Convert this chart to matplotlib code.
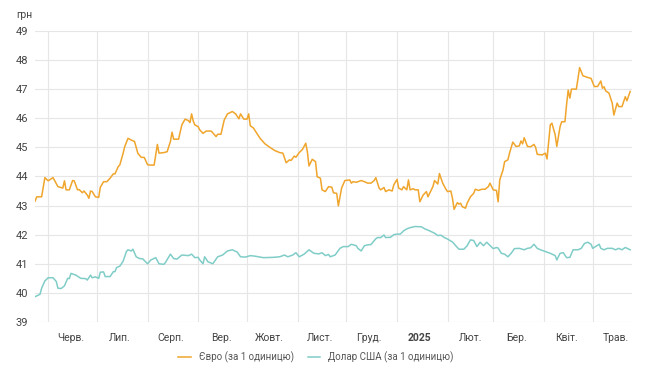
import matplotlib
matplotlib.use('Agg')
import matplotlib.pyplot as plt
import pandas as pd

plt.rcParams['font.family'] = ['Roboto', 'DejaVu Sans']

start_date = '2024-05-24'
month_labels = ['Черв.', 'Лип.', 'Серп.', 'Вер.', 'Жовт.', 'Лист.', 'Груд.',
                '2025', 'Лют.', 'Бер.', 'Квіт.', 'Трав.']

# days since start_date
euro_day = [0, 1, 4, 6, 8, 11, 14, 17, 18, 19, 21, 23, 24, 26, 27, 29, 30, 32, 33, 34,
            35, 37, 39, 40, 42, 44, 46, 48, 49, 51, 52, 54, 55, 57, 59, 61, 63, 65, 67, 69,
            71, 73, 75, 76, 79, 81, 83, 84, 85, 88, 90, 92, 94, 95, 96, 97, 98, 100, 101, 103,
            105, 108, 111, 112, 114, 116, 118, 121, 123, 125, 126, 128, 130, 131, 132, 134, 136, 138, 141, 144,
            147, 150, 152, 154, 156, 157, 159, 160, 162, 164, 166, 167, 168, 170, 172, 173, 175, 176, 178, 180,
            182, 183, 185, 186, 188, 190, 193, 194, 195, 197, 200, 202, 204, 206, 208, 209, 211, 212, 214, 215,
            217, 219, 220, 222, 223, 225, 226, 228, 229, 230, 232, 233, 235, 236, 238, 240, 241, 242, 244, 245,
            247, 248, 250, 252, 253, 255, 256, 257, 259, 260, 261, 262, 264, 265, 267, 269, 270, 272, 274, 276,
            278, 279, 281, 283, 284, 285, 287, 288, 290, 291, 293, 295, 297, 298, 299, 300, 302, 304, 306, 307,
            308, 311, 313, 314, 316, 317, 319, 320, 322, 323, 325, 326, 327, 328, 329, 332, 334, 336, 339, 341,
            343, 345, 347, 348, 349, 350, 352, 354, 355, 357, 358, 360, 362, 363, 365]
euro_rate = [43.15, 43.3, 43.3, 43.96, 43.85, 43.96, 43.65, 43.6, 43.85, 43.54, 43.54, 43.86, 43.85, 43.54, 43.55, 43.44, 43.5, 43.36, 43.25, 43.5,
             43.48, 43.3, 43.28, 43.63, 43.82, 43.82, 43.94, 44.09, 44.09, 44.34, 44.4, 44.8, 45.03, 45.31, 45.25, 45.2, 44.8, 44.66, 44.65, 44.4,
             44.39, 44.39, 45.1, 44.8, 44.82, 44.85, 45.2, 45.52, 45.28, 45.28, 45.77, 45.97, 45.92, 45.85, 46.15, 45.9, 45.77, 45.71, 45.6, 45.48,
             45.56, 45.56, 45.37, 45.45, 45.45, 45.94, 46.15, 46.23, 46.15, 45.98, 46.15, 45.97, 45.97, 46.15, 45.74, 45.66, 45.48, 45.31, 45.12, 45.0,
             44.89, 44.82, 44.8, 44.47, 44.57, 44.55, 44.7, 44.66, 44.82, 44.93, 45.14, 44.85, 44.36, 44.59, 44.51, 43.99, 43.94, 43.54, 43.48, 43.65,
             43.63, 43.44, 43.42, 42.99, 43.6, 43.86, 43.88, 43.77, 43.82, 43.8, 43.86, 43.82, 43.77, 43.77, 43.86, 43.96, 43.6, 43.54, 43.62, 43.48,
             43.54, 43.5, 43.71, 43.9, 43.6, 43.54, 43.65, 43.54, 43.88, 43.54, 43.58, 43.54, 43.54, 43.13, 43.36, 43.48, 43.3, 43.42, 43.65, 43.86,
             43.74, 44.1, 43.77, 43.56, 43.48, 43.5, 43.25, 42.87, 43.1, 43.05, 43.08, 42.96, 42.91, 43.08, 43.3, 43.42, 43.56, 43.52, 43.56, 43.56,
             43.65, 43.77, 43.54, 43.52, 43.13, 43.88, 44.22, 44.51, 44.57, 44.8, 45.18, 45.03, 45.05, 45.22, 45.12, 45.33, 45.03, 45.02, 45.1, 45.0,
             44.76, 44.74, 44.8, 44.6, 45.77, 45.83, 45.43, 45.03, 45.71, 45.88, 45.88, 46.48, 46.97, 46.69, 47.0, 47.0, 47.74, 47.46, 47.4, 47.37,
             47.09, 47.09, 47.28, 47.03, 47.08, 46.94, 46.86, 46.52, 46.11, 46.52, 46.4, 46.4, 46.74, 46.6, 46.92]

usd_day = [0, 3, 4, 6, 8, 11, 13, 14, 16, 18, 20, 21, 22, 25, 28, 31, 32, 34, 35, 37,
           39, 40, 42, 43, 46, 48, 49, 50, 52, 54, 56, 57, 59, 60, 62, 64, 66, 69, 71, 74,
           76, 79, 80, 83, 85, 87, 90, 92, 94, 96, 98, 100, 101, 103, 104, 106, 109, 112, 115, 118,
           121, 124, 126, 129, 132, 135, 140, 146, 150, 153, 155, 158, 160, 162, 165, 168, 171, 174, 176, 178,
           180, 181, 184, 187, 189, 192, 194, 197, 198, 200, 202, 204, 206, 209, 210, 212, 214, 215, 218, 220,
           222, 224, 226, 228, 230, 233, 237, 239, 242, 245, 247, 249, 251, 253, 255, 256, 258, 260, 263, 265,
           267, 269, 271, 273, 275, 277, 279, 281, 283, 284, 286, 288, 290, 292, 294, 297, 300, 302, 304, 306,
           308, 310, 312, 316, 319, 320, 322, 324, 326, 328, 330, 333, 335, 337, 339, 341, 342, 344, 346, 347,
           349, 351, 354, 356, 358, 360, 362, 365]
usd_rate = [39.87, 39.95, 40.16, 40.41, 40.52, 40.52, 40.39, 40.16, 40.15, 40.24, 40.5, 40.49, 40.67, 40.61, 40.5, 40.49, 40.44, 40.61, 40.52, 40.55,
            40.5, 40.71, 40.72, 40.56, 40.56, 40.73, 40.73, 40.87, 40.92, 41.09, 41.42, 41.48, 41.44, 41.5, 41.24, 41.18, 41.17, 41.0, 41.13, 41.21,
            41.0, 40.98, 41.05, 41.33, 41.18, 41.16, 41.3, 41.29, 41.28, 41.33, 41.21, 41.22, 41.13, 41.0, 41.24, 41.07, 41.0, 41.24, 41.3, 41.44,
            41.48, 41.4, 41.24, 41.23, 41.28, 41.26, 41.21, 41.22, 41.24, 41.3, 41.24, 41.3, 41.38, 41.24, 41.33, 41.48, 41.36, 41.34, 41.38, 41.28,
            41.32, 41.24, 41.3, 41.53, 41.59, 41.59, 41.67, 41.62, 41.53, 41.44, 41.62, 41.65, 41.66, 41.86, 41.9, 41.9, 41.99, 41.9, 41.91, 42.0,
            42.02, 42.02, 42.13, 42.2, 42.24, 42.28, 42.27, 42.2, 42.13, 42.05, 41.97, 41.98, 41.9, 41.85, 41.78, 41.75, 41.62, 41.5, 41.5, 41.62,
            41.82, 41.8, 41.59, 41.74, 41.62, 41.74, 41.63, 41.52, 41.56, 41.54, 41.36, 41.33, 41.24, 41.36, 41.52, 41.53, 41.48, 41.53, 41.55, 41.67,
            41.53, 41.48, 41.44, 41.36, 41.28, 41.13, 41.36, 41.38, 41.21, 41.22, 41.48, 41.48, 41.53, 41.7, 41.74, 41.67, 41.53, 41.6, 41.67, 41.53,
            41.48, 41.53, 41.53, 41.48, 41.53, 41.48, 41.56, 41.48]

start = pd.Timestamp(start_date)
euro_dates = start + pd.to_timedelta(euro_day, unit='D')
usd_dates = start + pd.to_timedelta(usd_day, unit='D')
month_starts = pd.date_range('2024-06-01', '2025-05-01', freq='MS')
month_mids = month_starts + pd.Timedelta(days=14)

fig = plt.figure(figsize=(6.5, 3.84), dpi=100)
ax = fig.add_axes([0.054, 0.1615, 0.918, 0.758])

ax.plot(euro_dates, euro_rate, color='#f0a52c', lw=1.1, label='Євро (за 1 одиницю)')
ax.plot(usd_dates, usd_rate, color='#80cdc8', lw=1.1, label='Долар США (за 1 одиницю)')

ax.set_xlim(start, start + pd.Timedelta(days=366))
ax.set_ylim(39, 49)
ax.set_yticks(range(39, 50))

ax.set_xticks(month_starts)
ax.set_xticklabels([])
ax.set_xticks(month_mids, minor=True)
labels = ax.set_xticklabels(month_labels, minor=True)
for lbl in labels:
    if lbl.get_text() == '2025':
        lbl.set_fontweight('bold')
        lbl.set_color('#222222')

ax.grid(True, which='major', color='#e6e6e6', lw=0.8)
ax.tick_params(axis='both', which='both', length=0, colors='#444444', labelsize=7.5)
ax.tick_params(axis='x', which='minor', pad=8)
ax.tick_params(axis='y', pad=5, labelsize=8)
for s in ax.spines.values():
    s.set_visible(False)

fig.text(0.025, 0.96, 'грн', fontsize=7.5, color='#444444', va='center', ha='left')

fig.legend(loc='center', bbox_to_anchor=(0.486, 0.07), ncol=2, frameon=False,
           fontsize=7, handlelength=1.3, columnspacing=1.4, labelcolor='#555555')

fig.savefig('out.png', dpi=100)
